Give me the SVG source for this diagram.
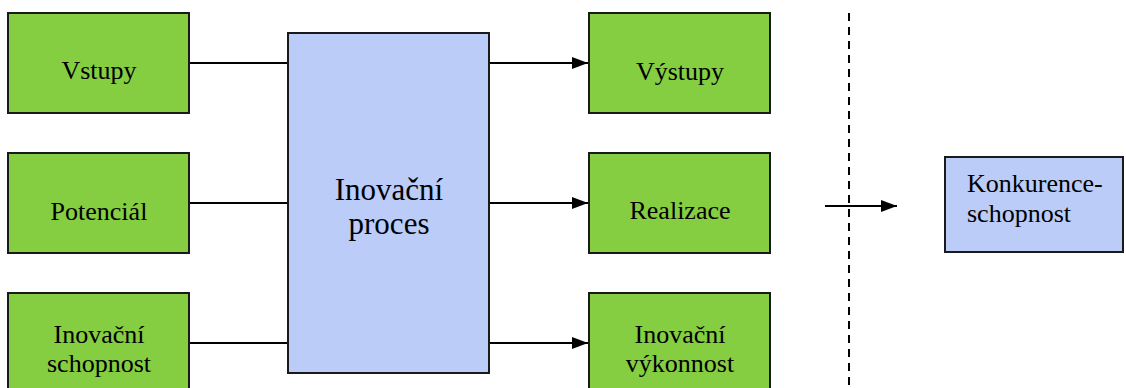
<svg xmlns="http://www.w3.org/2000/svg" width="1126" height="388" viewBox="0 0 1126 388">
<style>
.g{fill:#85CD41;stroke:#1a1a1a;stroke-width:2}
.b{fill:#BBCCF9;stroke:#1a1a1a;stroke-width:2}
text{fill:#000}
.t{font-size:26px;text-anchor:middle}
.tl{font-size:26px}
.tb{font-size:31px;text-anchor:middle}
.c{stroke:#000;stroke-width:2;fill:none}
</style>
<defs>
<marker id="ah" markerWidth="16" markerHeight="12" refX="16" refY="6" orient="auto" markerUnits="userSpaceOnUse">
<path d="M0,0 L16,6 L0,12 Z" fill="#000"/>
</marker>
</defs>
<rect width="1126" height="388" fill="#fff"/>
<g id="connectors">
<line class="c" x1="189" y1="63" x2="288" y2="63"/>
<line class="c" x1="189" y1="203" x2="288" y2="203"/>
<line class="c" x1="189" y1="343" x2="288" y2="343"/>
<line class="c" x1="489" y1="63" x2="588" y2="63" marker-end="url(#ah)"/>
<line class="c" x1="489" y1="203" x2="588" y2="203" marker-end="url(#ah)"/>
<line class="c" x1="489" y1="343" x2="588" y2="343" marker-end="url(#ah)"/>
<line class="c" x1="849" y1="13" x2="849" y2="388" stroke-dasharray="8,6"/>
<line class="c" x1="825" y1="206" x2="897" y2="206" marker-end="url(#ah)"/>
</g>
<g font-family="Liberation Serif, serif">
<g id="vstupy"><rect class="g" x="8" y="13" width="181" height="100"/><text class="t" x="99" y="79">Vstupy</text></g>
<g id="potencial"><rect class="g" x="8" y="153" width="181" height="100"/><text class="t" x="99" y="220">Potenciál</text></g>
<g id="inovacni-schopnost"><rect class="g" x="8" y="293" width="181" height="100"/><text class="t" x="99" y="343">Inovační</text><text class="t" x="99" y="372">schopnost</text></g>
<g id="inovacni-proces"><rect class="b" x="288" y="33" width="201" height="340"/><text class="tb" x="389" y="200">Inovační</text><text class="tb" x="389" y="234">proces</text></g>
<g id="vystupy"><rect class="g" x="589" y="13" width="181" height="100"/><text class="t" x="680" y="80">Výstupy</text></g>
<g id="realizace"><rect class="g" x="589" y="153" width="181" height="100"/><text class="t" x="680" y="219">Realizace</text></g>
<g id="inovacni-vykonnost"><rect class="g" x="589" y="293" width="181" height="100"/><text class="t" x="680" y="343">Inovační</text><text class="t" x="680" y="372">výkonnost</text></g>
<g id="konkurenceschopnost"><rect class="b" x="945" y="157" width="178" height="95"/><text class="tl" x="967" y="192">Konkurence-</text><text class="tl" x="967" y="222">schopnost</text></g>
</g>
</svg>
